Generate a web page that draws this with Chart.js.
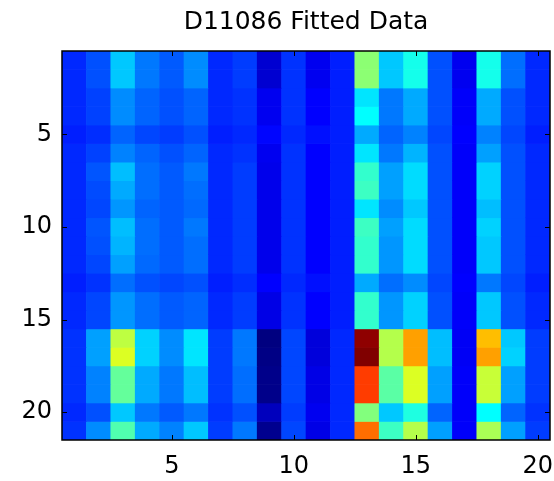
<!DOCTYPE html>
<html>
<head>
<meta charset="utf-8">
<title>D11086 Fitted Data</title>
<script src="https://cdn.jsdelivr.net/npm/chart.js@4/dist/chart.umd.min.js"></script>
<style>
  html, body { margin: 0; padding: 0; background: #fff; }
  #wrap { width: 554px; height: 481px; }
</style>
</head>
<body>
<div id="wrap"><canvas id="heat"></canvas></div>
<script>
// ── Data ────────────────────────────────────────────────────────────────────

const chartTitle = "D11086 Fitted Data";
const colIndex   = [1,2,3,4,5,6,7,8,9,10,11,12,13,14,15,16,17,18,19,20];
const rowIndex   = [1,2,3,4,5,6,7,8,9,10,11,12,13,14,15,16,17,18,19,20,21];
const tickVals   = [5, 10, 15, 20];

// one array per image row (row 1 at the top), 20 columns each
const cells = [
  [16.4,20.3,32.1,24.3,21.3,26.2,16.4,18.4, 8.0,17.4,11.0,15.4,51.2,32.1,39.5,20.3,11.0,39.5,23.3,16.4],
  [16.4,20.3,32.1,24.3,21.3,26.2,16.4,18.4, 8.0,17.4,11.0,15.4,51.2,32.1,39.5,20.3,11.0,39.5,23.3,16.4],
  [16.4,18.9,26.2,22.3,20.3,22.3,16.4,17.4,11.0,17.4,12.5,15.4,35.0,24.3,29.2,20.3,12.0,29.2,20.3,16.4],
  [16.4,18.9,26.2,22.3,20.3,22.3,16.4,17.4,11.0,17.4,12.5,15.4,37.5,24.3,29.2,20.3,12.0,29.2,20.3,16.4],
  [15.4,16.9,22.3,19.4,18.4,20.3,15.4,16.4,13.0,16.4,14.0,15.4,29.2,22.3,25.2,19.4,12.5,25.2,19.4,15.4],
  [16.4,18.9,25.2,22.3,20.3,22.3,16.4,17.4,11.0,17.4,12.5,15.4,35.0,24.3,30.1,20.3,12.0,28.2,20.3,16.4],
  [16.4,20.8,31.1,23.3,21.3,24.3,16.4,18.4,10.5,17.4,12.5,15.4,42.4,28.2,34.1,20.3,12.0,33.1,20.3,16.4],
  [16.4,19.9,29.2,23.3,21.3,23.3,16.4,18.4,10.5,17.4,12.5,15.4,43.4,28.2,34.1,20.3,12.0,33.1,20.3,16.4],
  [16.4,19.4,27.2,22.3,21.3,22.8,16.4,18.4,10.5,17.4,12.5,15.4,35.0,26.2,32.1,20.3,12.0,31.1,20.3,16.4],
  [16.4,20.8,31.1,23.3,21.3,24.3,16.4,18.4,10.5,17.4,12.5,15.4,43.4,28.2,34.1,20.3,12.0,33.1,20.3,16.4],
  [16.4,20.3,30.1,23.3,21.3,23.3,16.4,18.4,10.5,17.4,12.5,15.4,42.4,27.2,34.1,20.3,12.0,32.1,20.3,16.4],
  [16.4,19.4,28.2,22.8,21.3,23.3,16.4,18.4,10.5,17.4,12.5,15.4,42.4,27.2,34.1,20.3,12.0,32.1,20.3,16.4],
  [15.4,17.4,23.3,20.3,19.4,20.3,15.4,16.9,12.5,16.4,14.0,15.4,29.2,23.3,26.2,19.4,12.5,24.3,19.4,15.4],
  [16.4,19.4,27.2,23.3,21.3,22.3,16.4,18.4,10.0,17.4,12.5,15.4,42.4,27.2,33.1,20.3,12.0,32.1,20.3,16.4],
  [16.4,19.4,27.2,23.3,21.3,22.3,16.4,18.4,10.0,17.4,12.5,15.4,42.4,27.2,33.1,20.3,12.0,32.1,20.3,16.4],
  [17.4,28.2,56.1,33.1,26.2,35.0,18.4,24.3, 0.0,19.4, 9.0,16.4,98.5,55.1,71.8,31.1,11.5,68.9,32.1,18.4],
  [17.4,28.2,59.1,33.1,26.2,35.0,18.4,24.3, 0.5,19.4, 9.0,16.4,100.0,55.1,71.8,31.1,11.5,71.8,33.1,18.4],
  [17.4,25.2,47.3,29.2,24.3,31.1,18.4,23.3, 1.0,19.4,10.0,16.4,81.6,46.3,59.1,28.2,12.0,57.1,28.2,18.4],
  [17.4,25.2,47.3,29.2,24.3,31.1,18.4,23.3, 1.0,19.4,10.0,16.4,81.6,46.3,59.1,28.2,12.0,57.1,28.2,18.4],
  [16.4,20.3,32.1,24.3,21.3,24.3,17.4,20.3, 6.0,18.4,11.0,16.4,50.2,32.1,40.4,22.3,12.0,37.5,22.3,17.4],
  [17.4,26.2,45.3,29.2,25.2,32.1,18.4,24.3, 1.5,19.4,10.0,16.4,76.7,43.4,55.1,28.2,12.0,54.2,28.2,18.4],
];

// ── Colour map (MATLAB-style jet) ───────────────────────────────────────────

const allVals = cells.flat();
const vMin = Math.min(...allVals);
const vMax = Math.max(...allVals);

function jet(v) {
  const t = (v - vMin) / (vMax - vMin);
  const c = x => Math.round(255 * Math.max(0, Math.min(1, x)));
  const r = c(1.5 - Math.abs(4 * t - 3));
  const g = c(1.5 - Math.abs(4 * t - 2));
  const b = c(1.5 - Math.abs(4 * t - 1));
  return `rgb(${r},${g},${b})`;
}

// ── Axes box + inward ticks ─────────────────────────────────────────────────

const axesBox = {
  id: "axesBox",
  afterDatasetsDraw(chart) {
    const { ctx, chartArea: a, scales } = chart;
    const len = 5;
    ctx.save();
    ctx.strokeStyle = "#000";
    ctx.lineWidth = 1;
    ctx.beginPath();
    tickVals.forEach(v => {
      const x = Math.round(scales.x.getPixelForValue(v)) + 0.5;
      ctx.moveTo(x, a.bottom); ctx.lineTo(x, a.bottom - len);
      ctx.moveTo(x, a.top);    ctx.lineTo(x, a.top + len);
      const y = Math.round(scales.y.getPixelForValue(v)) + 0.5;
      ctx.moveTo(a.left, y);   ctx.lineTo(a.left + len, y);
      ctx.moveTo(a.right, y);  ctx.lineTo(a.right - len, y);
    });
    ctx.stroke();
    ctx.lineWidth = 1.5;
    ctx.strokeRect(a.left, a.top, a.right - a.left, a.bottom - a.top);
    ctx.restore();
  }
};

// ── Chart ───────────────────────────────────────────────────────────────────

const datasets = rowIndex.map((r, i) => ({
  label: "row " + r,
  data: colIndex.map(c => ({ x: c, y: [r - 0.5, r + 0.5] })),
  backgroundColor: cells[i].map(jet),
  borderWidth: 0,
  grouped: false,
  barPercentage: 1,
  categoryPercentage: 1,
}));

const tickFont = { family: "'DejaVu Sans', sans-serif", size: 24 };

new Chart(document.getElementById("heat"), {
  type: "bar",
  data: { datasets },
  plugins: [axesBox],
  options: {
    responsive: true,
    maintainAspectRatio: false,
    animation: false,
    layout: { padding: { left: 0, right: 4, top: 0, bottom: 0 } },
    plugins: {
      legend: { display: false },
      tooltip: { enabled: false },
      title: {
        display: true,
        text: chartTitle,
        fullSize: false,
        color: "#000",
        font: { family: "'DejaVu Sans', sans-serif", size: 25, weight: "normal" },
        padding: { top: 7, bottom: 14 },
      },
    },
    scales: {
      x: {
        type: "linear",
        offset: false,
        min: 0.5,
        max: 20.5,
        grid: { display: false, drawTicks: false, offset: false },
        border: { display: false },
        afterBuildTicks: s => { s.ticks = tickVals.map(v => ({ value: v })); },
        afterFit: s => {
          s.height = 41;
          s.paddingLeft = 0;
          s.paddingRight = 0;
        },
        ticks: { color: "#000", font: tickFont, padding: 12, maxRotation: 0 },
      },
      y: {
        type: "linear",
        reverse: true,
        min: 0.5,
        max: 21.5,
        grid: { display: false, drawTicks: false },
        border: { display: false },
        afterBuildTicks: s => { s.ticks = tickVals.map(v => ({ value: v })); },
        afterFit: s => {
          s.width = 62;
          s.paddingTop = 0;
          s.paddingBottom = 0;
        },
        ticks: { color: "#000", font: tickFont, padding: 10 },
      },
    },
  },
});
</script>
</body>
</html>
